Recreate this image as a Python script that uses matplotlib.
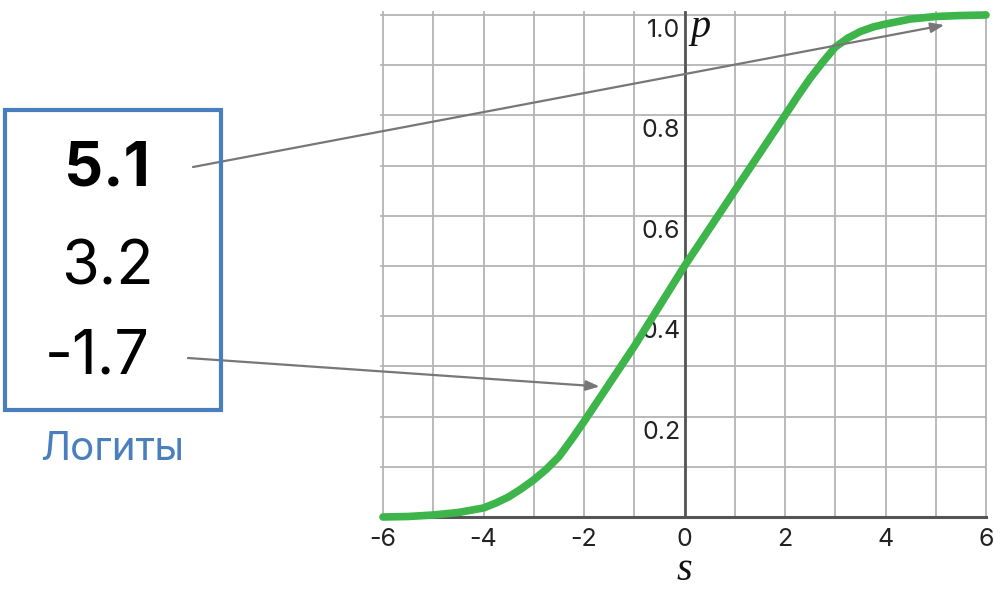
import matplotlib
matplotlib.use("Agg")
import matplotlib.pyplot as plt
from matplotlib.patches import Rectangle

# ---- data ----
s_vals = [-6, -5.5, -5, -4.5, -4, -3.75, -3.5, -3.25, -3, -2.75, -2.5, -2.25, -2,
          -1.5, -1, -0.5, 0, 0.5, 1, 1.5, 2, 2.25, 2.5, 2.75, 3, 3.25, 3.5, 3.75,
          4, 4.5, 5, 5.5, 6]
p_vals = [0.0, 0.001, 0.004, 0.009, 0.018, 0.028, 0.04, 0.056, 0.074, 0.095, 0.12, 0.154, 0.19,
          0.265, 0.34, 0.42, 0.5, 0.575, 0.65, 0.725, 0.8, 0.838, 0.874, 0.906, 0.936, 0.954,
          0.967, 0.976, 0.982, 0.992, 0.997, 0.999, 1.0]
x_ticks = [-6, -4, -2, 0, 2, 4, 6]
y_ticks = [0.2, 0.4, 0.6, 0.8, 1.0]
logits = ["5.1", "3.2", "-1.7"]
logit_title = "Логиты"
arrow_targets = [(5.17, 0.98), (-1.69, 0.26)]

W, H = 1000, 590
fig = plt.figure(figsize=(W / 100, H / 100), dpi=100)
ax = fig.add_axes([383 / W, 73 / H, 603 / W, 502 / H])
ax.set_xlim(-6, 6)
ax.set_ylim(0, 1.0)
for sp in ax.spines.values():
    sp.set_visible(False)
ax.set_xticks([])
ax.set_yticks([])

grid_c = "#b4b4b4"
for k in range(-6, 7):
    ax.plot([k, k], [0, 1.005], color=grid_c, lw=1.3, zorder=1, clip_on=False)
for j in range(1, 11):
    ax.plot([-6.04, 6], [j / 10, j / 10], color=grid_c, lw=1.3, zorder=1, clip_on=False)
# axes
ax.plot([-6, 6], [0, 0], color="#555555", lw=2.2, zorder=2, clip_on=False)
ax.plot([0, 0], [0, 1.005], color="#555555", lw=2.0, zorder=2, clip_on=False)

# curve
ax.plot(s_vals, p_vals, color="#3db54a", lw=5.5, solid_capstyle="round",
        solid_joinstyle="round", zorder=4, clip_on=False)

lab_font = "Inter"
for t in x_ticks:
    ax.text(t, -0.044, f"{t}", ha="center", va="center", fontsize=18,
            family=lab_font, color="#222222")
for t in y_ticks:
    ax.text(-0.08, t - 0.008, f"{t:.1f}", ha="right", va="top", fontsize=18,
            family=lab_font, color="#222222", zorder=3)

ax.text(0.12, 0.975, "p", ha="left", va="center", fontsize=29,
        family="Liberation Serif", style="italic", color="#111111")
ax.text(0, -0.107, "s", ha="center", va="center", fontsize=29,
        family="Liberation Serif", style="italic", color="#111111")

# logit box
box = Rectangle((5 / W, (H - 410) / H), 216 / W, 300 / H, transform=fig.transFigure,
                fill=False, edgecolor="#4a7fbd", lw=3)
fig.patches.append(box)
ys = [170, 268, 358]
xs = [107, 107, 97]
for lbl, x, y, w in zip(logits, xs, ys, ["bold", "normal", "normal"]):
    fig.text(x / W, (H - y) / H, lbl, ha="center", va="center", fontsize=44,
             family="Inter", weight=w, color="black")
fig.text(112 / W, (H - 450) / H, logit_title, ha="center", va="center", fontsize=29,
         family="Inter", color="#4a7fbd")

# arrows
tails = [(193, H - 167), (188, H - 358)]
for (tx, ty), (ds, dp) in zip(tails, arrow_targets):
    ax.annotate("", xy=(ds, dp), xycoords="data", xytext=(tx, ty),
                textcoords="figure pixels",
                arrowprops=dict(arrowstyle="-|>,head_length=0.8,head_width=0.3",
                                color="#777777", lw=1.6, shrinkA=0, shrinkB=0),
                zorder=5, annotation_clip=False)

fig.savefig("out.png", dpi=100, facecolor="white")
